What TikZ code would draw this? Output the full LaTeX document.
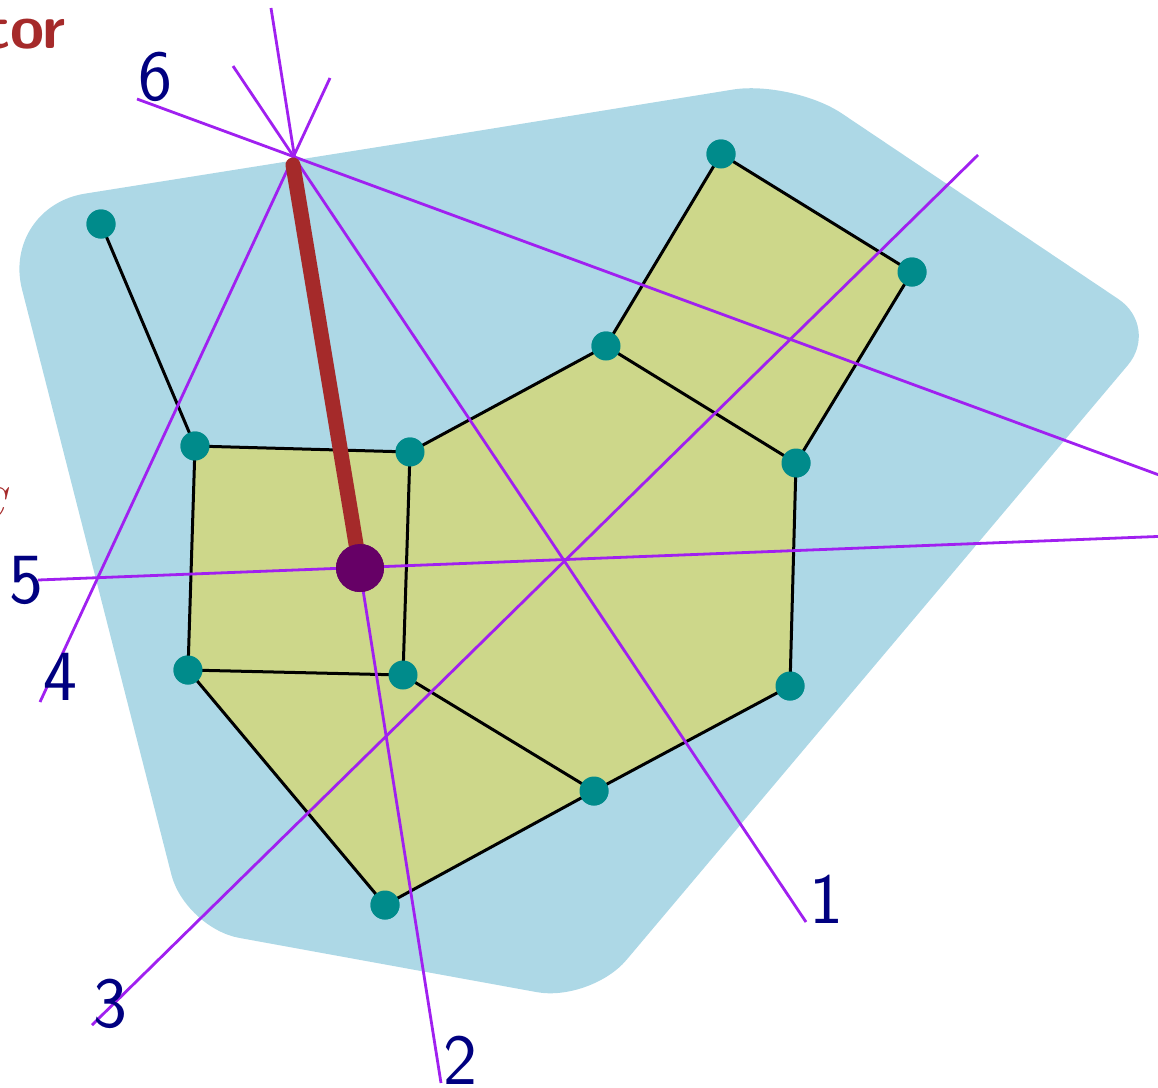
\documentclass[tikz,border=0pt]{standalone}
\usepackage{fontspec}
\definecolor{lblue}{RGB}{173,216,230}
\definecolor{lgreen}{RGB}{205,215,138}
\definecolor{vio}{RGB}{160,32,240}
\definecolor{teal2}{RGB}{0,139,139}
\definecolor{brick}{RGB}{165,42,42}
\definecolor{plum2}{RGB}{102,0,102}
\definecolor{navy2}{RGB}{0,0,128}
\begin{document}
\begin{tikzpicture}[x=1pt,y=-1pt,
  pt/.style={circle,fill=teal2,inner sep=0pt,minimum size=29pt},
  edge/.style={black,line width=3pt},
  ray/.style={vio,line width=2.8pt},
  lab/.style={text=navy2,font=\fontsize{72}{72}\selectfont\sffamily,inner sep=0pt}]
\useasboundingbox (0,0) rectangle (1158,1087);
% blue region
\fill[lblue] (400,143.5) [rounded corners=85pt] -- (1,207) [rounded corners=55pt] -- (185,928)
  [rounded corners=55pt] -- (591,1002) [rounded corners=50pt] -- (1160,327)
  [rounded corners=60pt] -- (792,80) [sharp corners] -- (400,143.5) -- cycle;
% graph points
\node[pt] (a) at (101,224) {};
\node[pt] (b) at (195,446) {};
\node[pt] (c) at (410,452) {};
\node[pt] (d) at (606,346) {};
\node[pt] (e) at (721,154) {};
\node[pt] (f) at (912,272) {};
\node[pt] (g) at (796,463) {};
\node[pt] (h) at (790,686) {};
\node[pt] (i) at (594,791) {};
\node[pt] (j) at (385,905) {};
\node[pt] (k) at (188,670) {};
\node[pt] (l) at (403,675) {};
% green fill
\fill[lgreen] (b.center) -- (c.center) -- (d.center) -- (e.center) -- (f.center) -- (g.center)
  -- (h.center) -- (i.center) -- (j.center) -- (k.center) -- cycle;
% edges
\draw[edge] (a.center) -- (b.center);
\draw[edge] (b.center) -- (c.center);
\draw[edge] (c.center) -- (d.center);
\draw[edge] (d.center) -- (e.center);
\draw[edge] (e.center) -- (f.center);
\draw[edge] (f.center) -- (g.center);
\draw[edge] (d.center) -- (g.center);
\draw[edge] (g.center) -- (h.center);
\draw[edge] (h.center) -- (i.center);
\draw[edge] (i.center) -- (j.center);
\draw[edge] (j.center) -- (k.center);
\draw[edge] (k.center) -- (b.center);
\draw[edge] (k.center) -- (l.center);
\draw[edge] (l.center) -- (c.center);
\draw[edge] (l.center) -- (i.center);
% rays
\coordinate (r1a) at (233,66);   \coordinate (r1b) at (806,922);
\coordinate (r2a) at (271,8);    \coordinate (r2b) at (441,1083);
\coordinate (r3a) at (92,1025);  \coordinate (r3b) at (978,155);
\coordinate (r4a) at (330,78);   \coordinate (r4b) at (40,702);
\coordinate (r5a) at (38,580);   \coordinate (r5b) at (1170,536);
\coordinate (r6a) at (137,99);   \coordinate (r6b) at (1170,479);
\draw[ray] (r1a) -- (r1b);
\draw[ray] (r2a) -- (r2b);
\draw[ray] (r3a) -- (r3b);
\draw[ray] (r4a) -- (r4b);
\draw[ray] (r5a) -- (r5b);
\draw[ray] (r6a) -- (r6b);
% thick red segment
\coordinate (top) at (293,165);
\node[circle,fill=plum2,inner sep=0pt,minimum size=48pt] (q) at (360,568) {};
\draw[brick,line width=15pt,line cap=round] (top) -- (q.center);
\node[circle,fill=plum2,inner sep=0pt,minimum size=48pt] at (q) {};
% redraw points on top
\foreach \n in {a,b,c,d,e,f,g,h,i,j,k,l} \node[pt] at (\n) {};
% labels
\node[lab,anchor=base] (l1) at (826,923) {1};
\node[lab,anchor=base] (l2) at (460,1084) {2};
\node[lab,anchor=base] (l3) at (110,1027) {3};
\node[lab,anchor=base] (l4) at (60,700) {4};
\node[lab,anchor=base] (l5) at (26,603) {5};
\node[lab,anchor=base] (l6) at (155,100) {6};
% clipped texts
\node[text=brick,font=\fontsize{62}{62}\selectfont\sffamily\bfseries,anchor=base east,inner sep=0pt] (tt) at (66,48) {tor};
\node[text=brick,font=\fontsize{44}{44}\selectfont\itshape,anchor=base east,inner sep=0pt] (cc) at (6,518) {C};
\end{tikzpicture}
\end{document}
